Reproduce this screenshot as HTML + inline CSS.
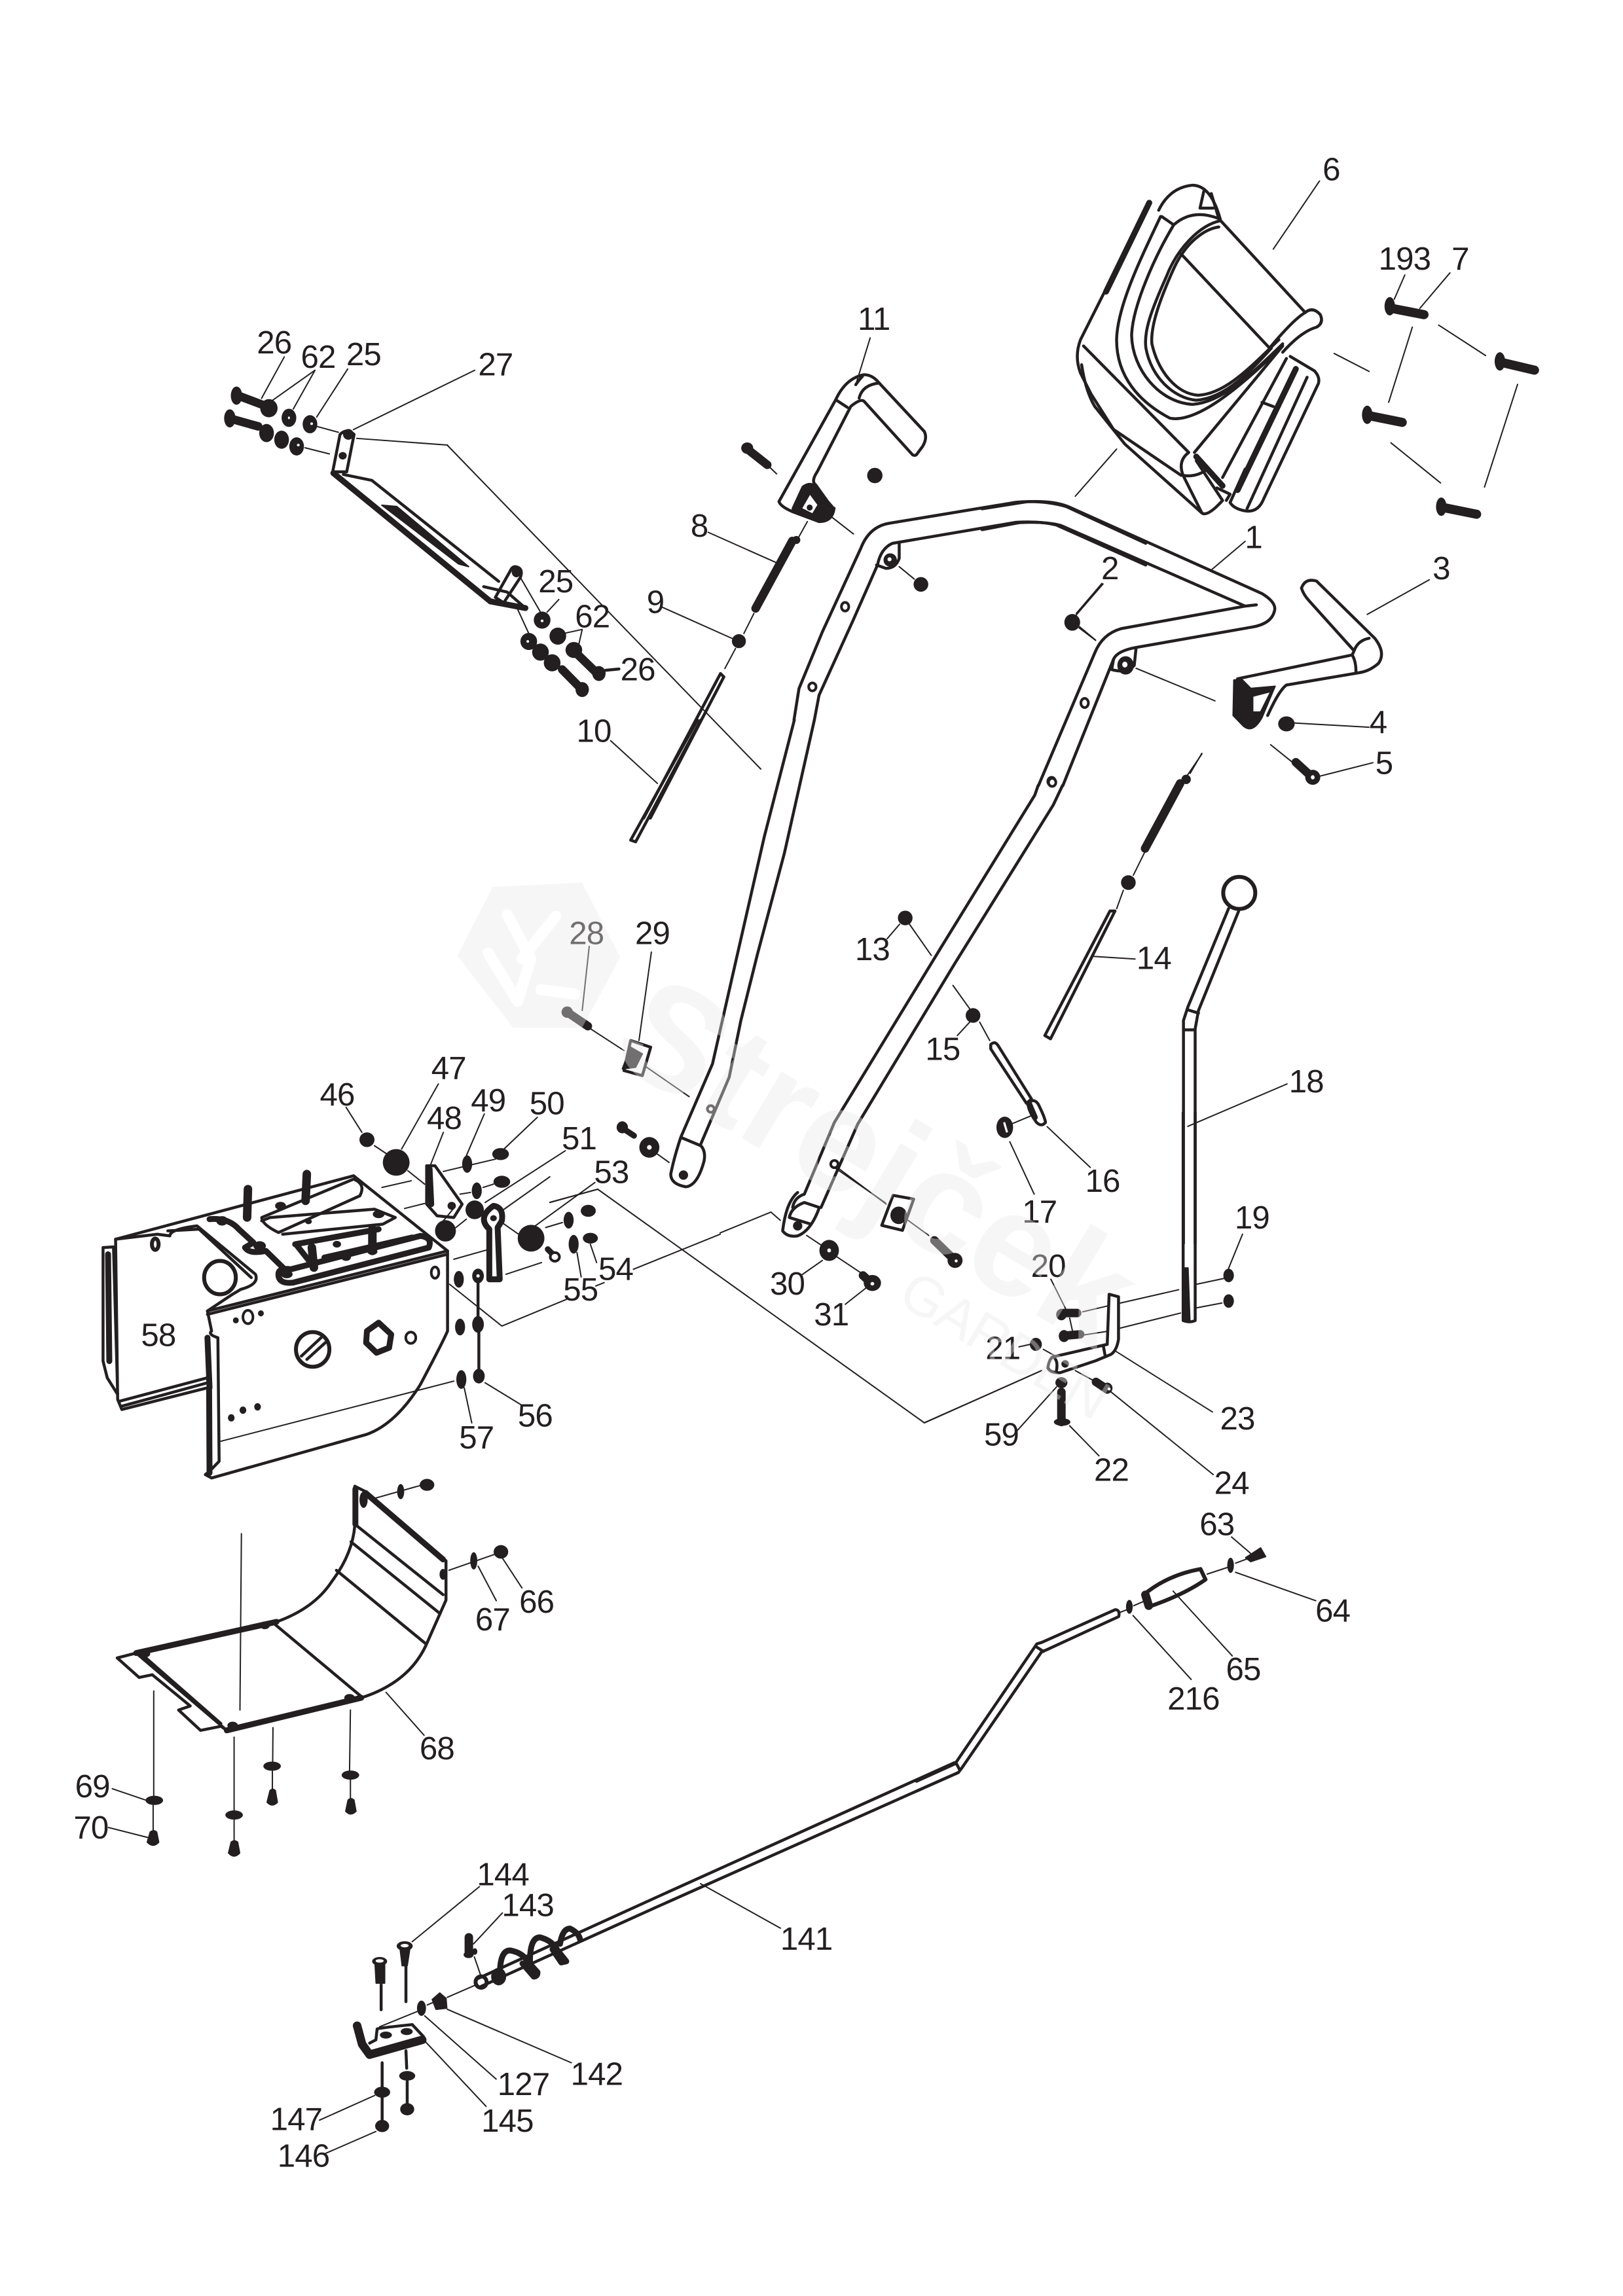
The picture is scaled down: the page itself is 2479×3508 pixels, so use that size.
<!DOCTYPE html>
<html><head><meta charset="utf-8"><style>
html,body{margin:0;padding:0;background:#fff}
svg{display:block}
path,ellipse{vector-effect:non-scaling-stroke}
path{fill:none;stroke:#231f20;stroke-width:4.5;stroke-linejoin:round;stroke-linecap:round}
.t{stroke-width:2}
.b{stroke-width:9}
.c{stroke-width:13}
.f{fill:#231f20;stroke-width:2}
.w{fill:#fff;stroke:none}
ellipse{fill:#231f20;stroke:none}
ellipse.r{fill:#fff;stroke:#231f20;stroke-width:4}
ellipse.o{fill:none;stroke:#231f20;stroke-width:6}
ellipse.h{fill:#fff}
text{font-family:"Liberation Sans",sans-serif;font-size:22px;fill:#231f20;text-anchor:middle;letter-spacing:-.4px}
</style></head><body>
<svg xmlns="http://www.w3.org/2000/svg" width="2479" height="3508" viewBox="0 0 2479 3508">
<rect width="2479" height="3508" fill="#fff"/>

<!-- Z1: chute, top right -->
<g transform="translate(1500,200) scale(.574,.638)">
<path class="b" d="M445,172L330,385"/>
<path d="M445,172L262,500Q245,540 262,580L290,630L350,715L530,825"/>
<path d="M265,560C270,590 280,630 300,660L380,750L585,915Q600,925 640,885"/>
<path d="M470,190Q500,135 560,130Q610,130 635,215"/>
<path d="M475,205C420,310 360,420 358,500C358,590 420,650 500,688C570,700 680,620 800,515"/>
<path d="M510,225C460,300 400,420 398,490C400,570 470,650 560,655C640,650 720,580 800,510"/>
<path d="M635,215C580,225 520,280 490,350C450,430 430,480 436,520C450,590 510,640 570,645C650,640 720,570 770,520"/>
<path d="M630,230C590,235 540,270 510,330C470,410 448,470 452,510C470,580 520,630 575,633C650,630 720,560 790,500"/>
<path d="M478,205L510,225Q560,185 630,210M580,185L590,145M580,185L615,185M610,150L630,210"/>
<path d="M635,215L860,435M530,295L765,520M765,520Q830,450 860,435Q880,420 900,440Q910,460 890,470Q850,480 800,530"/>
<path d="M270,515L550,770M800,515L565,770M550,770Q520,790 535,825L585,915M640,885L570,790M535,825Q570,830 600,810"/>
<path d="M820,540L885,575Q900,590 895,605L750,880Q735,915 700,910Q670,905 660,890L700,810M810,545L640,830M745,650L775,660M865,590L705,905"/>
<path class="b" d="M835,570L680,860M570,780L640,850"/>
<path d="M625,855L660,870L650,885"/>
<!-- bolts 7 -->
<ellipse cx="1085" cy="420" rx="14" ry="22"/><path style="stroke-width:14" d="M1090,425L1176,440"/>
<ellipse cx="1378" cy="552" rx="14" ry="22"/><path style="stroke-width:14" d="M1385,555L1470,573"/>
<ellipse cx="1025" cy="680" rx="14" ry="22"/><path style="stroke-width:14" d="M1030,682L1118,698"/>
<ellipse cx="1222" cy="900" rx="14" ry="22"/><path style="stroke-width:14" d="M1228,902L1316,918"/>
<path class="t" d="M898,120L775,283M1125,345L1097,403M1245,340L1165,425M1215,465L1340,538M1145,470L1082,650M1425,607L1337,853M1088,747L1220,843M937,533L1030,576M358,762L248,875M700,983L612,1050M322,1085L250,1160M258,1190L302,1220M1190,1075L1025,1158M830,1418L1030,1428M1040,1513L900,1545M768,1470L830,1515M410,1287L620,1365M585,1492L545,1545"/>
<!-- handle right -->
<path d="M0,905L120,888Q190,885 230,900L745,1108Q785,1130 778,1150Q770,1180 720,1188L410,1237"/>
<path d="M0,955L100,938Q170,935 210,945L700,1138L730,1135"/>
<path d="M700,1138L370,1192Q320,1205 300,1250L150,1568M350,1265L215,1568"/>
<path d="M410,1237L405,1280Q385,1300 345,1290L350,1265Q360,1245 410,1237"/>
<ellipse cx="382" cy="1280" rx="22" ry="22"/><ellipse class="h" cx="380" cy="1278" rx="7" ry="7"/>
<ellipse class="r" cx="273" cy="1370" rx="10" ry="11"/><ellipse class="r" cx="185" cy="1558" rx="10" ry="10"/>
<ellipse cx="240" cy="1177" rx="21" ry="20"/>
<!-- lever 3 -->
<path d="M850,1095Q860,1070 890,1078L1045,1215Q1075,1250 1055,1275Q1030,1295 1000,1298L810,1327Q790,1340 760,1400"/>
<path d="M850,1095Q855,1110 870,1125L990,1245L985,1255L680,1312M990,1245Q1000,1220 1030,1215M985,1255Q995,1270 995,1295"/>
<path class="f" d="M670,1315L690,1312L715,1335L780,1330L745,1405Q720,1445 695,1425L668,1400Z"/>
<path class="w" d="M722,1355L765,1345L740,1390L722,1390Z"/>
<ellipse cx="810" cy="1420" rx="22" ry="18"/>
<path class="c" d="M835,1512L875,1545"/><ellipse cx="880" cy="1548" rx="20" ry="18"/><ellipse class="h" cx="880" cy="1548" rx="5" ry="5"/>
</g>

<!-- Z7: handle left, lever 11 -->
<g transform="translate(950,450) scale(.5102,.5102)">
<path d="M640,315Q670,250 725,240Q750,240 770,265L905,410Q915,430 900,455L885,475Q880,485 870,480L725,320Q715,310 685,335L585,530Q565,560 580,570L630,640"/>
<path d="M640,315L470,620Q475,635 510,650L590,680Q630,680 635,640M640,315L675,338M770,265Q720,270 710,310M700,270Q710,255 720,245"/>
<path class="f" d="M510,640L540,575Q560,560 575,570L632,635Q635,680 590,680L510,645Z"/>
<path class="w" d="M540,640L563,600L585,630L570,655Z"/><ellipse cx="562" cy="638" rx="9" ry="9"/>
<path class="c" d="M378,465L435,510"/><ellipse cx="375" cy="460" rx="18" ry="17"/>
<ellipse cx="757" cy="542" rx="23" ry="23"/>
<path class="t" d="M440,515L463,537M630,668L693,717M743,130L700,270M258,712L460,802M555,680L530,725M395,955L365,1015M122,937L330,1030M340,1060L308,1120M830,815L875,852M1437,865L1360,955M1370,995L1418,1035"/>
<path class="c" d="M400,940L510,738"/><ellipse cx="522" cy="735" rx="12" ry="12"/>
<ellipse cx="350" cy="1038" rx="21" ry="21"/>
<path d="M295,1135L65,1568M305,1145L85,1568M295,1135L305,1145"/>
<path d="M515,1274L530,1180L600,1010L715,760Q740,695 800,685L1180,622Q1260,615 1330,635L1568,745"/>
<path d="M576,1274L590,1200L690,980L765,810Q775,760 810,745L1180,682Q1250,678 1300,690L1568,810"/>
<path d="M830,745L830,790Q820,820 790,820L762,810"/>
<ellipse cx="803" cy="795" rx="20" ry="20"/><ellipse class="h" cx="801" cy="793" rx="6" ry="6"/>
<ellipse cx="895" cy="868" rx="22" ry="22"/>
<ellipse class="r" cx="668" cy="935" rx="11" ry="13"/><ellipse class="r" cx="570" cy="1175" rx="11" ry="12"/>
</g>

<!-- real coordinates -->
<path class="t" d="M683,680L1162,1175"/>
<path class="t" d="M840,1837L913,1817L1412,2174L1591,2094"/>
<path d="M1000,2900L1458,2693M1000,2915L1464,2708"/>
<path class="t" d="M1070,2878L1192,2946"/>

<!-- Z8: lower handle -->
<g transform="translate(800,1100) scale(.5102,.5102)">
<path d="M520,0L320,360L335,365L530,0"/>
<path class="t" d="M260,62L400,190"/>
<path d="M810,0L720,350L640,700L565,1030L470,1250Q450,1310 440,1360Q440,1390 485,1398Q520,1395 540,1320Q545,1290 530,1275L470,1250"/>
<path d="M870,0L780,400L700,700L650,900L615,1070L530,1270"/>
<ellipse cx="478" cy="1363" rx="14" ry="14"/><ellipse class="r" cx="560" cy="1165" rx="10" ry="10"/>
<path d="M1540,196L1530,225L1250,680L930,1205L840,1420M1613,196L1585,255L1290,730L1000,1210L890,1460"/>
<path d="M820,1415C790,1440 780,1490 775,1530Q790,1550 820,1545Q860,1530 885,1460L840,1445Q800,1460 795,1490M795,1490L860,1510M840,1420Q810,1430 805,1460"/>
<ellipse cx="820" cy="1515" rx="14" ry="14"/><ellipse class="r" cx="930" cy="1330" rx="11" ry="11"/>
<path class="t" d="M945,1345L1085,1450"/>
<path class="c" d="M130,875L192,917"/><ellipse cx="130" cy="875" rx="17" ry="17"/>
<path class="t" d="M196,678L175,870M200,925L300,990M382,695L345,960M365,1038L495,1128M1125,612L1088,655M1155,612L1220,705M1285,795L1335,865M1335,905L1298,945M1365,905L1395,960"/>
<path d="M320,960L380,980L355,1065L300,1050Z"/>
<path class="f" d="M320,980L355,1000L335,1040L295,1045Z"/>
<ellipse cx="295" cy="1220" rx="17" ry="18"/><path class="b" d="M298,1224L330,1245"/>
<ellipse cx="376" cy="1280" rx="30" ry="31"/><ellipse class="h" cx="376" cy="1280" rx="7" ry="7"/>
<path class="t" d="M400,1300L435,1325"/>
<ellipse cx="1142" cy="593" rx="22" ry="22"/><ellipse cx="1345" cy="885" rx="22" ry="22"/>
</g>

<!-- Z9: rods -->
<g transform="translate(1300,1100) scale(.5102,.5102)">
<ellipse class="r" cx="602" cy="187" rx="11" ry="12"/>
<path d="M418,972Q430,960 440,975L540,1135L525,1148L418,985Z"/>
<path d="M530,1150Q545,1130 560,1150Q580,1190 582,1205Q570,1220 555,1205Q530,1170 530,1150Z"/>
<path class="b" d="M533,1150L550,1190"/>
<path class="t" d="M480,1210L540,1185M587,1218L716,1340M475,1263L548,1420M725,708L850,716M815,510L795,565M845,465L878,398M1015,160L1050,100M1305,1090L1008,1217"/>
<ellipse cx="460" cy="1220" rx="25" ry="32"/><path class="w" d="M455,1206L461,1204L470,1234L464,1236Z"/>
<path d="M580,945L775,572L790,572L597,955Z"/>
<ellipse cx="830" cy="487" rx="22" ry="22"/>
<path class="c" d="M880,385L985,190"/><ellipse cx="1003" cy="178" rx="14" ry="14"/>
<ellipse class="o" cx="1162" cy="518" rx="48" ry="48"/>
<path d="M1130,565L1008,860L995,900L995,1568M1162,568L1040,870L1030,925L1030,1568M1008,868L1040,878M995,928L1030,928"/>
</g>

<!-- Z6: lower-mid -->
<g transform="translate(1100,1700) scale(.574,.3827)">
<path d="M1232,0L1232,830Q1250,840 1264,830L1264,0"/>
<path class="f" d="M1232,620L1245,620L1250,830L1235,830Z"/>
<ellipse cx="1353" cy="650" rx="14" ry="27"/><ellipse cx="1353" cy="752" rx="14" ry="27"/>
<path class="t" d="M1390,485L1352,625M1340,662L1268,685M1335,760L1265,780M1220,707L1065,760M1225,800L1065,860M880,665L920,785M965,795L1030,772M930,820L938,875M965,888L1030,873M795,935L825,925M860,945L890,970M1050,950L1310,1195M945,1030L1000,1075M1040,1115L1312,1445M895,1095L790,1270M930,1250L1008,1370M855,1030L543,1238M160,430L135,397L0,480M272,590L215,650M388,700L333,765M230,490L270,530M310,575L375,640M305,220L440,360M500,430L555,490"/>
<ellipse cx="908" cy="806" rx="14" ry="23"/><path class="c" d="M915,800L950,800"/>
<ellipse cx="915" cy="892" rx="14" ry="24"/><path class="c" d="M918,890L958,885"/>
<ellipse cx="840" cy="925" rx="16" ry="26"/>
<path d="M1035,725L1060,735L1060,905Q1055,950 1040,965L1000,990L905,1038Q880,1040 872,1020Q875,985 885,975L1030,925L1035,725M885,975Q900,985 895,1030M1020,935L1025,975"/>
<ellipse cx="918" cy="1003" rx="10" ry="15"/>
<ellipse cx="908" cy="1078" rx="16" ry="22"/>
<path class="c" d="M908,1115L908,1235"/><ellipse cx="910" cy="1235" rx="22" ry="15"/>
<path class="c" d="M1000,1075L1030,1105"/><ellipse cx="1030" cy="1100" rx="14" ry="22"/><ellipse class="h" cx="1035" cy="1103" rx="4" ry="6"/>
<ellipse cx="290" cy="550" rx="26" ry="42"/><ellipse class="h" cx="290" cy="550" rx="5" ry="8"/>
<path class="c" d="M380,650L405,685"/><ellipse cx="405" cy="680" rx="23" ry="32"/><ellipse class="h" cx="405" cy="683" rx="5" ry="7"/>
<path d="M460,330L515,345L485,470L430,450Z"/>
<ellipse cx="475" cy="410" rx="22" ry="35"/>
<path class="c" d="M570,510L625,590"/><ellipse cx="625" cy="590" rx="20" ry="30"/><ellipse class="h" cx="628" cy="592" rx="4" ry="6"/>
</g>

<!-- Z3: bracket upper-left -->
<g transform="translate(300,480) scale(.5102,.4082)">
<path class="t" d="M263,160L195,315M355,210L225,325M355,210L290,355M453,205L360,385M360,420L425,442M833,210L470,432M480,465L752,490M325,500L398,523M972,990L1030,1115M1050,1115L1085,1068M960,1100L995,1195"/>
<path class="c" d="M125,305L210,345"/><ellipse cx="120" cy="305" rx="17" ry="34"/><ellipse cx="217" cy="352" rx="26" ry="34"/>
<ellipse cx="277" cy="388" rx="22" ry="34"/><ellipse class="h" cx="277" cy="388" rx="3" ry="5"/>
<ellipse cx="340" cy="412" rx="22" ry="34"/><ellipse class="h" cx="345" cy="410" rx="4" ry="5"/>
<path class="c" d="M105,392L185,420"/><ellipse cx="100" cy="390" rx="17" ry="34"/>
<ellipse cx="210" cy="445" rx="22" ry="34"/><ellipse cx="255" cy="470" rx="22" ry="34"/><ellipse cx="300" cy="495" rx="22" ry="34"/><ellipse class="h" cx="305" cy="490" rx="4" ry="5"/>
<path d="M430,450Q450,425 472,450L450,590L408,590Z"/>
<ellipse cx="455" cy="450" rx="16" ry="20"/><ellipse cx="438" cy="530" rx="12" ry="14"/>
<path class="b" d="M410,595L880,1075"/><path d="M440,600L525,622L905,1000"/>
<path class="f" d="M555,715L600,720L815,945L785,935Z"/>
<path d="M880,1075L985,1100L930,1040L860,1020"/><path class="b" d="M880,1075L985,1100"/>
<path d="M955,945Q980,950 970,985L920,1080L895,1060L940,960Q945,945 955,945"/>
<ellipse cx="958" cy="965" rx="14" ry="20"/>
<ellipse cx="1035" cy="1145" rx="25" ry="32"/><ellipse class="h" cx="1035" cy="1148" rx="4" ry="5"/>
<ellipse cx="995" cy="1225" rx="25" ry="32"/><ellipse class="h" cx="992" cy="1225" rx="4" ry="5"/>
<ellipse cx="1030" cy="1265" rx="25" ry="32"/><ellipse cx="1065" cy="1305" rx="25" ry="32"/>
<path class="c" d="M1095,1330L1150,1400"/><ellipse cx="1155" cy="1405" rx="20" ry="28"/>
<ellipse cx="1082" cy="1205" rx="25" ry="32"/>
<path class="c" d="M1130,1260L1200,1345"/><ellipse cx="1130" cy="1257" rx="25" ry="30"/><ellipse cx="1205" cy="1345" rx="20" ry="28"/>
<path class="t" d="M1100,1195L1155,1180L1145,1235"/><path d="M1225,1333L1265,1328"/>
</g>

<!-- Z2: housing -->
<g transform="translate(100,1600) scale(.6378,.5102)">
<path d="M120,575L690,385L915,610L340,790M340,800L915,620"/>
<path d="M90,600L115,598L125,1040L100,990L90,940ZM120,575L125,1055L135,1085L340,1020M130,1060L340,990M135,1075L340,1005"/>
<path class="b" d="M102,620L105,940"/>
<path d="M470,510L690,395Q720,410 705,445L510,555Q470,530 470,510Z"/>
<path d="M470,520L490,510L740,485L790,510L760,530L520,560"/>
<path class="b" d="M510,680Q510,660 540,665L850,565Q880,570 870,600L545,705Q510,710 510,680Z"/>
<path class="b" d="M555,595L590,650M620,630L830,570M550,590L750,545"/>
<path class="c" d="M590,600L595,660M735,545L735,610M437,425L435,510M578,380L575,460"/>
<path class="b" d="M345,515Q390,510 415,545L450,585L430,600Q440,620 480,610L525,665"/>
<ellipse cx="515" cy="475" rx="13" ry="12"/><ellipse cx="465" cy="595" rx="15" ry="14"/><ellipse cx="375" cy="520" rx="14" ry="14"/><ellipse cx="650" cy="590" rx="10" ry="10"/><ellipse cx="672" cy="628" rx="12" ry="12"/><ellipse cx="750" cy="500" rx="14" ry="12"/><ellipse cx="582" cy="522" rx="8" ry="8"/><ellipse cx="735" cy="612" rx="12" ry="10"/><ellipse cx="530" cy="680" rx="14" ry="12"/>
<path d="M120,575L220,560L250,565Q250,545 315,535L455,680Q465,710 420,725L400,740L340,790M245,550L320,545L445,690"/>
<ellipse class="o" cx="370" cy="690" rx="38" ry="50"/>
<ellipse class="o" cx="215" cy="590" rx="8" ry="17"/>
<path d="M340,790L350,850Q340,860 365,870L368,1240L345,1270L335,1280L350,1290L720,1160Q790,1130 850,1010Q905,880 915,850L915,610"/>
<path class="b" d="M344,1020L345,1275M340,870L345,1020"/>
<ellipse class="o" cx="592" cy="905" rx="40" ry="52"/>
<path d="M565,925L612,870M578,935L622,885"/>
<path class="b" d="M750,825L780,860L775,900L745,915L720,885L722,850Z"/>
<ellipse class="r" cx="827" cy="870" rx="12" ry="17"/>
<ellipse class="r" cx="437" cy="808" rx="12" ry="20"/>
<ellipse class="r" cx="885" cy="675" rx="9" ry="17"/>
<ellipse cx="408" cy="818" rx="7" ry="9"/><ellipse cx="468" cy="797" rx="7" ry="9"/><ellipse cx="397" cy="1110" rx="8" ry="11"/><ellipse cx="425" cy="1087" rx="8" ry="11"/><ellipse cx="460" cy="1077" rx="8" ry="11"/>
<path class="t" d="M372,1180L930,1000M920,710L1045,835L1200,755M1270,715L1290,705M1360,665L1568,560M955,1020L973,1125M1005,1005L1090,1070M672,180L710,255M740,295L770,320M893,110L805,305M820,370L860,410M905,255L875,350M1003,200L960,325M905,372L1030,335M1130,210L1050,305M945,440L970,435M1000,420L1025,410M1197,310L1005,465M935,540L960,515M905,520L928,485M1160,388L1045,490M1045,525L1085,560M1268,405L1125,535M1055,680L1140,645M1150,540L1190,525M1257,590L1272,645M1225,615L1235,688M758,420L828,400M812,483L860,468M930,635L1015,605M1160,465L1275,425"/>
<path d="M988,705L988,810M990,850L990,965"/>
<ellipse cx="942" cy="695" rx="12" ry="25"/><ellipse cx="988" cy="685" rx="14" ry="22"/><ellipse class="h" cx="988" cy="685" rx="4" ry="5"/>
<ellipse cx="988" cy="830" rx="14" ry="25"/><ellipse cx="945" cy="838" rx="12" ry="25"/><ellipse cx="990" cy="985" rx="14" ry="22"/><ellipse cx="948" cy="995" rx="12" ry="28"/>
<ellipse cx="722" cy="277" rx="18" ry="22"/><ellipse cx="792" cy="345" rx="32" ry="40"/>
<path d="M865,355L865,470L890,505L930,510L950,470L885,355Z"/><path class="b" d="M872,365L876,470"/>
<ellipse cx="925" cy="475" rx="10" ry="12"/>
<ellipse cx="962" cy="350" rx="12" ry="26"/><ellipse cx="1042" cy="320" rx="20" ry="18"/>
<ellipse cx="985" cy="430" rx="12" ry="25"/><ellipse cx="1045" cy="403" rx="20" ry="18"/>
<ellipse cx="980" cy="487" rx="22" ry="28"/><ellipse cx="910" cy="550" rx="25" ry="32"/>
<path class="b" d="M1025,475Q1050,480 1045,520L1035,540L1040,695L1015,695L1015,545Q985,510 1025,475Z"/>
<ellipse cx="1025" cy="512" rx="8" ry="9"/>
<ellipse cx="1115" cy="572" rx="32" ry="40"/>
<path class="b" d="M1155,605L1175,630"/><ellipse class="r" cx="1172" cy="628" rx="11" ry="13"/>
<ellipse cx="1205" cy="518" rx="12" ry="25"/><ellipse cx="1252" cy="490" rx="18" ry="18"/><ellipse cx="1217" cy="590" rx="12" ry="28"/><ellipse cx="1257" cy="572" rx="18" ry="16"/>
</g>

<!-- Z4: shield -->
<g transform="translate(150,2250) scale(.4464,.4145)">
<path d="M878,50L878,195Q870,300 800,400Q740,500 610,550L130,665L65,683L140,755L185,745L315,860L275,875L350,950L420,935L440,950L900,830Q1060,775 1120,640L1190,470L1190,325L915,70L878,50"/>
<path d="M160,680L420,925M130,665L440,950M878,190L1180,450M865,255L1170,520M815,360L1120,630M600,555L900,825"/>
<path class="b" d="M915,75L1180,320M130,665L610,550M440,950L900,830M880,60L880,190"/>
<ellipse cx="570" cy="563" rx="17" ry="14"/><ellipse cx="160" cy="668" rx="18" ry="13"/><ellipse cx="460" cy="932" rx="18" ry="14"/><ellipse cx="860" cy="830" rx="18" ry="14"/><ellipse cx="1180" cy="375" rx="12" ry="20"/><ellipse cx="908" cy="100" rx="14" ry="30"/>
<path class="t" d="M490,225L485,875M190,805L190,1190M465,975L465,1245M598,940L597,1065M863,875L860,1098M188,1225L188,1320M465,1280L465,1360M596,1100L596,1170M863,1130L863,1205M945,95L1110,45M1200,360L1360,300M1300,345L1362,472M1380,310L1450,425M985,810L1115,968M48,1165L165,1208M35,1308L170,1345"/>
<ellipse cx="192" cy="1208" rx="30" ry="17"/><ellipse cx="465" cy="1262" rx="30" ry="17"/><ellipse cx="595" cy="1082" rx="30" ry="17"/><ellipse cx="863" cy="1115" rx="30" ry="17"/>
<path class="f" d="M178,1325Q190,1315 200,1325L207,1362Q188,1385 168,1362Z"/><path class="f" d="M455,1362Q466,1352 477,1362L484,1402Q465,1425 446,1402Z"/><path class="f" d="M588,1172Q597,1162 606,1172L613,1215Q595,1235 578,1215Z"/><path class="f" d="M855,1207Q865,1197 875,1207L882,1248Q864,1268 847,1248Z"/>
<ellipse cx="1035" cy="70" rx="12" ry="28"/><ellipse cx="1125" cy="45" rx="25" ry="22"/>
<ellipse cx="1285" cy="325" rx="12" ry="32"/><ellipse cx="1378" cy="292" rx="25" ry="25"/>
</g>

<!-- Z5: auger -->
<g transform="translate(400,2850) scale(.3827,.3333)">
<path d="M860,520L1568,150M875,555L1568,195"/>
<path class="b" d="M950,500Q950,390 990,390Q1040,400 1060,440L1100,490Q1100,510 1085,510L1040,450M1070,440Q1070,330 1110,330Q1160,345 1180,390L1215,440L1195,445L1160,385M1190,360Q1200,290 1230,290Q1265,310 1270,340"/>
<ellipse cx="945" cy="510" rx="30" ry="40"/>
<ellipse class="o" cx="875" cy="535" rx="22" ry="26"/>
<path class="t" d="M868,98L600,350M960,218L845,360M848,420L875,510M740,605L850,550M660,640L690,625M470,740L620,670M740,660L1235,905M650,690L935,980M650,805L895,1105M230,1168L450,1055M255,1320L455,1220"/>
<ellipse cx="570" cy="370" rx="32" ry="22"/><ellipse class="h" cx="570" cy="368" rx="16" ry="8"/><path class="f" d="M552,385L590,385L580,460L560,460Z"/><path d="M575,465L575,625"/>
<ellipse cx="470" cy="440" rx="30" ry="20"/><ellipse class="h" cx="470" cy="438" rx="16" ry="8"/><path class="f" d="M452,455L490,455L490,540L456,540Z"/><path d="M476,548L476,662"/>
<path class="c" d="M826,330L826,405"/><ellipse cx="825" cy="410" rx="20" ry="15"/><ellipse cx="850" cy="395" rx="10" ry="15"/>
<path class="f" d="M680,615L710,585L735,610L738,655L695,660Z"/>
<ellipse cx="637" cy="655" rx="18" ry="35"/>
<path class="c" d="M380,735L400,820L430,868L640,800"/>
<path d="M430,815L455,800L460,750Q470,745 600,730L645,785"/>
<ellipse cx="495" cy="778" rx="24" ry="16"/><ellipse cx="578" cy="762" rx="24" ry="16"/>
<path d="M575,850L578,930M580,990L580,1090M480,905L480,1015M480,1065L480,1170"/>
<ellipse cx="580" cy="965" rx="32" ry="22"/><ellipse cx="580" cy="1118" rx="28" ry="28"/>
<ellipse cx="480" cy="1040" rx="32" ry="25"/><ellipse cx="480" cy="1195" rx="28" ry="28"/>
</g>

<!-- Z10: top of auger -->
<g transform="translate(1400,2300) scale(.5102,.3333)">
<path d="M0,1265L115,1185L360,635L375,628L595,478Q610,480 605,510L385,665L375,670L135,1205L125,1225L0,1310M360,650L380,670M118,1180L130,1215"/>
<path style="stroke-width:6" d="M680,410Q750,320 850,292L865,340Q800,410 695,465Z"/>
<path class="c" d="M685,410L695,460"/>
<ellipse cx="637" cy="465" rx="10" ry="32"/><ellipse cx="940" cy="275" rx="10" ry="35"/>
<path class="f" d="M985,240L1030,195L1045,235L1000,258Z"/>
<path class="t" d="M610,490L630,478M650,460L680,440M870,315L930,285M955,265L990,245M943,145L1000,220M955,307L1195,437M768,393L945,690M648,505L822,798"/>
</g>

<!-- Labels -->
<g transform="scale(2.2394,2.24)">
<g transform="translate(0,-1)">
<text x="908" y="124">6</text><text x="958" y="185">193</text><text x="996" y="185">7</text><text x="855" y="375">1</text><text x="757" y="396">2</text><text x="983" y="396">3</text><text x="940" y="501">4</text><text x="944" y="529">5</text>
<text x="596" y="226">11</text><text x="187" y="242">26</text><text x="217" y="252">62</text><text x="248" y="250">25</text><text x="338" y="257">27</text>
<text x="477" y="367">8</text><text x="447" y="419">9</text><text x="405" y="507">10</text><text x="379" y="405">25</text><text x="404" y="429">62</text><text x="435" y="465">26</text>
<text x="595" y="656">13</text><text x="787" y="662">14</text><text x="643" y="724">15</text><text x="752" y="814">16</text><text x="709" y="835">17</text><text x="891" y="746">18</text><text x="854" y="839">19</text><text x="715" y="872">20</text><text x="684" y="928">21</text><text x="844" y="976">23</text><text x="840" y="1020">24</text><text x="758" y="1011">22</text><text x="683" y="987">59</text>
<text x="400" y="645">28</text><text x="445" y="645">29</text><text x="230" y="755">46</text><text x="306" y="737">47</text><text x="303" y="771">48</text><text x="333" y="759">49</text><text x="373" y="761">50</text><text x="395" y="785">51</text><text x="417" y="808">53</text><text x="420" y="874">54</text><text x="396" y="888">55</text><text x="365" y="974">56</text><text x="325" y="989">57</text><text x="108" y="919">58</text><text x="537" y="884">30</text><text x="567" y="905">31</text>
<text x="830" y="1048">63</text><text x="909" y="1107">64</text><text x="848" y="1147">65</text><text x="814" y="1167">216</text><text x="366" y="1101">66</text><text x="336" y="1113">67</text><text x="298" y="1201">68</text><text x="63" y="1227">69</text><text x="62" y="1255">70</text>
<text x="550" y="1331">141</text><text x="343" y="1287">144</text><text x="360" y="1308">143</text><text x="407" y="1423">142</text><text x="357" y="1430">127</text><text x="346" y="1455">145</text><text x="202" y="1454">147</text><text x="207" y="1479">146</text>
</g>

<!-- Watermark overlay -->
<g opacity=".4">
<path style="fill:#e8e8e8;stroke:none" d="M336,605L397,602L423,653L397,701L350,701L312,652Z"/>
<path style="stroke:#fff;stroke-width:17" d="M346,624L362,654L353,683M333,650L353,683M379,625L356,654M369,675L392,678"/>
<text transform="rotate(31 414 721)" x="414" y="721" font-weight="bold" style="font-size:100px;fill:#e8e8e8;text-anchor:start;letter-spacing:0" textLength="390">Strejček</text>
<text transform="rotate(31 611 888)" x="611" y="888" style="font-size:38px;fill:#e8e8e8;text-anchor:start;letter-spacing:0" textLength="158">GARDEN</text>
</g>
</g>
</svg>
</body></html>
